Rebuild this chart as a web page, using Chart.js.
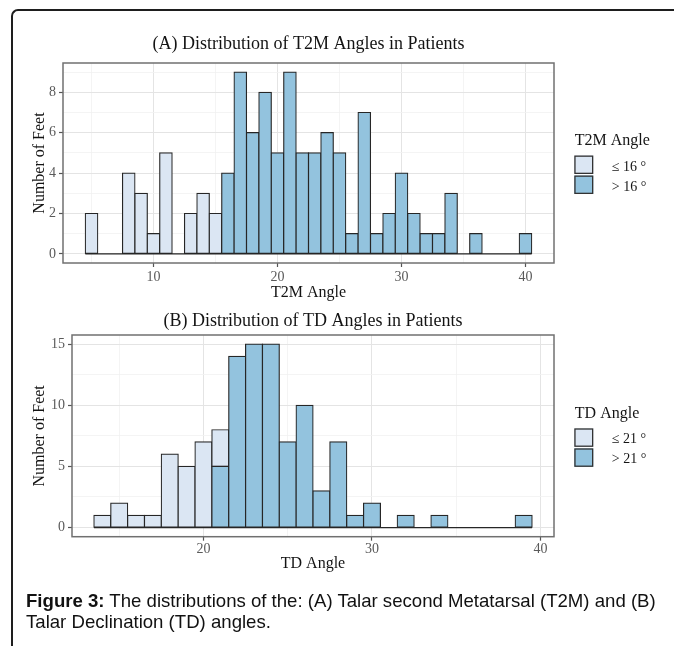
<!DOCTYPE html>
<html><head><meta charset="utf-8">
<script src="https://cdn.jsdelivr.net/npm/chart.js@4.4.1/dist/chart.umd.min.js"></script>
<style>
html,body{margin:0;padding:0;background:#fff;width:674px;height:646px;overflow:hidden;}
#frame{position:absolute;left:11px;top:9px;width:800px;height:800px;border-left:2px solid #1e1e1e;border-top:2px solid #1e1e1e;border-top-left-radius:7px;}
.c{position:absolute;left:0;}
#caption{position:absolute;left:26px;top:590px;font-family:'Liberation Sans',Arial,sans-serif;font-size:18.6px;line-height:21px;color:#111;white-space:nowrap;}
</style></head><body>
<div id="frame"></div>
<canvas id="chartA" class="c" width="674" height="310" style="top:0"></canvas>
<canvas id="chartB" class="c" width="674" height="290" style="top:300px"></canvas>
<div id="caption"><b>Figure 3:</b> The distributions of the: (A) Talar second Metatarsal (T2M) and (B)<br>Talar Declination (TD) angles.</div>
<script>
// ---------- DATA ----------
// (A) T2M angle histogram, bins of width 1 centred on these angles
const t2mBins = [5,6,7,8,9,10,11,12,13,14,15,16,17,18,19,20,21,22,23,24,25,26,27,28,29,30,31,32,33,34,35,36,37,38,39,40];
const t2mLow  = [2,0,0,4,3,1,5,0,2,3,2,0,0,0,0,0,0,0,0,0,0,0,0,0,0,0,0,0,0,0,0,0,0,0,0,0];
const t2mHigh = [0,0,0,0,0,0,0,0,0,0,0,4,9,6,8,5,9,5,5,6,5,1,7,1,2,4,2,1,1,3,0,1,0,0,0,1];
const t2mXTicks = [10,20,30,40];
const t2mXMinor = [5,15,25,35];
const t2mYTicks = [0,2,4,6,8];
const t2mYMinor = [1,3,5,7,9];
const t2mLegend = ['\u2264 16 \u00b0', '> 16 \u00b0'];

// (B) TD angle histogram
const tdBins = [14,15,16,17,18,19,20,21,22,23,24,25,26,27,28,29,30,31,32,33,34,35,36,37,38,39];
const tdLow  = [1,2,1,1,6,5,7,3,0,0,0,0,0,0,0,0,0,0,0,0,0,0,0,0,0,0];
const tdHigh = [0,0,0,0,0,0,0,5,14,15,15,7,10,3,7,1,2,0,1,0,1,0,0,0,0,1];
const tdXTicks = [20,30,40];
const tdXMinor = [15,25,35];
const tdYTicks = [0,5,10,15];
const tdYMinor = [2.5,7.5,12.5];
const tdLegend = ['\u2264 21 \u00b0', '> 21 \u00b0'];

// ---------- STYLE ----------
const SERIF = "'Liberation Serif','Times New Roman',serif";
const LIGHT = '#dbe6f3';
const DARK = '#93c3de';
const EDGE = '#262626';
const TICK = '#5a5a5a';
const TEXT = '#141414';

const panelDeco = {
  id: 'panelDeco',
  afterDatasetsDraw(chart, args, o) {
    const {ctx, chartArea: a} = chart;
    ctx.save();
    ctx.strokeStyle = '#707070';
    ctx.lineWidth = 1.5;
    ctx.strokeRect(a.left, a.top, a.right - a.left, a.bottom - a.top);
    ctx.restore();
  },
  afterDraw(chart, args, o) {
    const {ctx, chartArea: a} = chart;
    const x0 = a.right + 20.3;
    const cy = (a.top + a.bottom) / 2;
    ctx.save();
    ctx.textAlign = 'left';
    ctx.textBaseline = 'alphabetic';
    ctx.fillStyle = TEXT;
    ctx.font = '16px ' + SERIF;
    ctx.fillText(o.title, x0 + 0.5, cy - 18);
    o.labels.forEach((lab, i) => {
      const top = cy - 7.5 + i * 20;
      ctx.fillStyle = o.colors[i];
      ctx.fillRect(x0, top, 19, 18.5);
      ctx.strokeStyle = '#333';
      ctx.lineWidth = 1.3;
      ctx.strokeRect(x0 + 0.65, top + 0.65, 17.7, 17.2);
      ctx.fillStyle = TEXT;
      ctx.font = '14px ' + SERIF;
      ctx.fillText(lab, x0 + 37.5, top + 15);
    });
    ctx.restore();
  }
};

function makeChart(id, s) {
  const lo = s.bins[0] - 0.5, hi = s.bins[s.bins.length - 1] + 0.5;
  const xpad = 0.05 * (hi - lo);
  const ymax = Math.max(...s.bins.map((b, i) => s.low[i] + s.high[i]));
  const ypad = 0.05 * ymax;
  const isMajX = v => s.xTicks.includes(v);
  const isMajY = v => s.yTicks.includes(v);
  const barBase = {
    type: 'bar', borderColor: EDGE, borderSkipped: false, inflateAmount: 0.6,
    barPercentage: 1, categoryPercentage: 1,
    borderWidth: c => (c.raw && c.raw.y > 0) ? 1.2 : 0
  };
  return new Chart(document.getElementById(id), {
    type: 'bar',
    data: {
      datasets: [
        { type: 'line', data: [{x: lo, y: 0}, {x: hi, y: 0}], borderColor: EDGE, borderWidth: 1.2,
          pointRadius: 0, fill: false, order: 1 },
        Object.assign({}, barBase, { label: s.legend[1], order: 2,
          data: s.bins.map((b, i) => ({x: b, y: s.high[i]})),
          backgroundColor: c => (c.raw && c.raw.y > 0) ? DARK : 'rgba(0,0,0,0)' }),
        Object.assign({}, barBase, { label: s.legend[0], order: 3,
          data: s.bins.map((b, i) => ({x: b, y: s.low[i]})),
          backgroundColor: c => (c.raw && c.raw.y > 0) ? LIGHT : 'rgba(0,0,0,0)' })
      ]
    },
    options: {
      responsive: false, animation: false, events: [],
      layout: { padding: { left: 0, right: 120, top: 0, bottom: 0 } },
      scales: {
        x: {
          type: 'linear', min: lo - xpad, max: hi + xpad, offset: false, stacked: true,
          afterBuildTicks: sc => { sc.ticks = [...s.xTicks, ...s.xMinor].sort((a, b) => a - b).map(v => ({value: v})); },
          afterFit: sc => { sc.height = s.xAxisH; },
          ticks: { autoSkip: false, maxRotation: 0, padding: s.xTickPad, color: TICK,
            font: { family: SERIF, size: 14 }, callback: v => isMajX(v) ? String(v) : '' },
          grid: { offset: false, drawTicks: true, tickLength: 4,
            color: c => isMajX(c.tick.value) ? '#e4e4e4' : '#f1f1f1',
            lineWidth: c => isMajX(c.tick.value) ? 1 : 0.8,
            tickColor: c => isMajX(c.tick.value) ? '#555' : 'rgba(0,0,0,0)', tickWidth: 1.2 },
          border: { display: false },
          title: { display: true, text: s.xTitle, color: TEXT, font: { family: SERIF, size: 16 },
            padding: { top: 0, bottom: s.xTitlePadB } }
        },
        y: {
          type: 'linear', min: -ypad, max: ymax + ypad, stacked: true,
          afterBuildTicks: sc => { sc.ticks = [...s.yTicks, ...s.yMinor].sort((a, b) => a - b).map(v => ({value: v})); },
          afterFit: sc => { sc.width = s.yAxisW; },
          ticks: { autoSkip: false, padding: 3, color: TICK,
            font: { family: SERIF, size: 14 }, callback: v => isMajY(v) ? String(v) : '' },
          grid: { drawTicks: true, tickLength: 4,
            color: c => isMajY(c.tick.value) ? '#e4e4e4' : '#f1f1f1',
            lineWidth: c => isMajY(c.tick.value) ? 1 : 0.8,
            tickColor: c => isMajY(c.tick.value) ? '#555' : 'rgba(0,0,0,0)', tickWidth: 1.2 },
          border: { display: false },
          title: { display: true, text: 'Number of Feet', color: TEXT, font: { family: SERIF, size: 16 },
            padding: { top: 30, bottom: 0 } }
        }
      },
      plugins: {
        legend: { display: false },
        tooltip: { enabled: false },
        title: { display: true, fullSize: false, text: s.title, color: TEXT,
          font: { family: SERIF, size: 18, weight: 'normal' }, padding: s.titlePad },
        panelDeco: { title: s.legendTitle, labels: s.legend, colors: [LIGHT, DARK] }
      }
    },
    plugins: [panelDeco]
  });
}

makeChart('chartA', {
  bins: t2mBins, low: t2mLow, high: t2mHigh,
  xTicks: t2mXTicks, xMinor: t2mXMinor, yTicks: t2mYTicks, yMinor: t2mYMinor,
  legend: t2mLegend, legendTitle: 'T2M Angle',
  title: '(A) Distribution of T2M Angles in Patients', xTitle: 'T2M Angle',
  titlePad: { top: 33.9, bottom: 7.5 }, xAxisH: 47, yAxisW: 63, xTickPad: 1.5, xTitlePadB: 7.5
});
makeChart('chartB', {
  bins: tdBins, low: tdLow, high: tdHigh,
  xTicks: tdXTicks, xMinor: tdXMinor, yTicks: tdYTicks, yMinor: tdYMinor,
  legend: tdLegend, legendTitle: 'TD Angle',
  title: '(B) Distribution of TD Angles in Patients', xTitle: 'TD Angle',
  titlePad: { top: 10.6, bottom: 2.8 }, xAxisH: 53.3, yAxisW: 72, xTickPad: 0, xTitlePadB: 16.9
});
</script>
</body></html>
